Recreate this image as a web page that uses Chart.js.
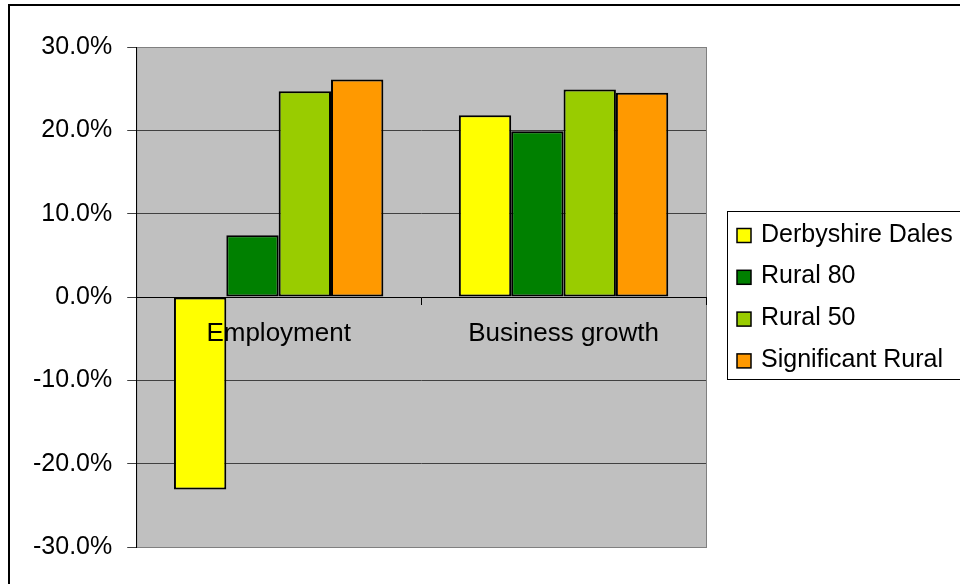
<!DOCTYPE html>
<html>
<head>
<meta charset="utf-8">
<script src="https://cdn.jsdelivr.net/npm/chart.js@4/dist/chart.umd.min.js"></script>
<style>
  html, body { margin: 0; padding: 0; background: #fff; }
  #wrap { width: 960px; height: 584px; }
</style>
</head>
<body>
<div id="wrap"><canvas id="myChart" width="960" height="584"></canvas></div>
<script>
// categories and series values (percent)
var categories = ["Employment", "Business growth"];
var seriesNames = ["Derbyshire Dales", "Rural 80", "Rural 50", "Significant Rural"];
var derbyshireDales = [-23.1, 21.8];
var rural80 = [7.4, 19.9];
var rural50 = [24.7, 24.9];
var significantRural = [26.1, 24.5];
var seriesColors = ["#ffff00", "#008000", "#99cc00", "#ff9900"];
var yMin = -30, yMax = 30, yStep = 10;

var FONT = "'Liberation Sans', Arial, sans-serif";

// gray plot background, border and the outer frame
var plotBackground = {
  id: "plotBackground",
  beforeDraw: function (chart) {
    var ctx = chart.ctx, a = chart.chartArea;
    ctx.save();
    ctx.fillStyle = "#000";
    ctx.fillRect(8, 4, 960, 2);
    ctx.fillRect(8, 4, 2, 584);
    ctx.fillStyle = "#c0c0c0";
    ctx.fillRect(a.left, a.top, a.right - a.left, a.bottom - a.top);
    ctx.strokeStyle = "#808080";
    ctx.lineWidth = 1;
    ctx.strokeRect(a.left + 0.5, a.top + 0.5, a.right - a.left, a.bottom - a.top);
    ctx.restore();
  }
};

// boxed legend on the right
var boxLegend = {
  id: "boxLegend",
  afterDraw: function (chart) {
    var ctx = chart.ctx;
    ctx.save();
    ctx.strokeStyle = "#000";
    ctx.lineWidth = 1;
    ctx.strokeRect(727.5, 211.5, 250, 168);
    ctx.font = "25px " + FONT;
    ctx.textBaseline = "alphabetic";
    ctx.fillStyle = "#000";
    chart.data.datasets.forEach(function (ds, i) {
      var cy = 235.5 + i * 41.8;
      ctx.fillStyle = ds.backgroundColor;
      ctx.fillRect(737, cy - 7, 14, 14);
      ctx.lineWidth = 1.5;
      ctx.strokeRect(737, cy - 7, 14, 14);
      ctx.fillStyle = "#000";
      ctx.fillText(ds.label, 761, cy + 6);
    });
    ctx.restore();
  }
};

var values = [derbyshireDales, rural80, rural50, significantRural];
var datasets = seriesNames.map(function (name, i) {
  return {
    label: name,
    data: values[i],
    backgroundColor: seriesColors[i],
    borderColor: "#000",
    borderWidth: 2,
    borderSkipped: false,
    barPercentage: 1,
    categoryPercentage: 0.735
  };
});

var ctx = document.getElementById("myChart").getContext("2d");
var chart = new Chart(ctx, {
  type: "bar",
  data: { labels: categories, datasets: datasets },
  plugins: [plotBackground, boxLegend],
  options: {
    responsive: false,
    animation: false,
    layout: { padding: { top: 47, bottom: 37, left: 18, right: 254 } },
    plugins: { legend: { display: false }, tooltip: { enabled: false } },
    scales: {
      x: {
        position: { y: 0 },
        offset: true,
        grid: { drawOnChartArea: false, drawTicks: true, tickLength: 7, color: "#000", offset: true },
        border: { color: "#000", width: 1 },
        // category names sit over the bars, like the zero axis
        ticks: { color: "#000", font: { family: FONT, size: 26 }, padding: 14, z: 1 }
      },
      y: {
        min: yMin,
        max: yMax,
        grid: {
          color: function (c) {
            return (c.tick.value === yMin || c.tick.value === yMax) ? "#808080" : "#404040";
          },
          tickColor: "#404040",
          tickLength: 9
        },
        border: { color: "#000", width: 1 },
        ticks: {
          stepSize: yStep,
          color: "#000",
          padding: 15,
          font: { family: FONT, size: 25 },
          callback: function (v) { return v.toFixed(1) + "%"; }
        }
      }
    }
  }
});
</script>
</body>
</html>
